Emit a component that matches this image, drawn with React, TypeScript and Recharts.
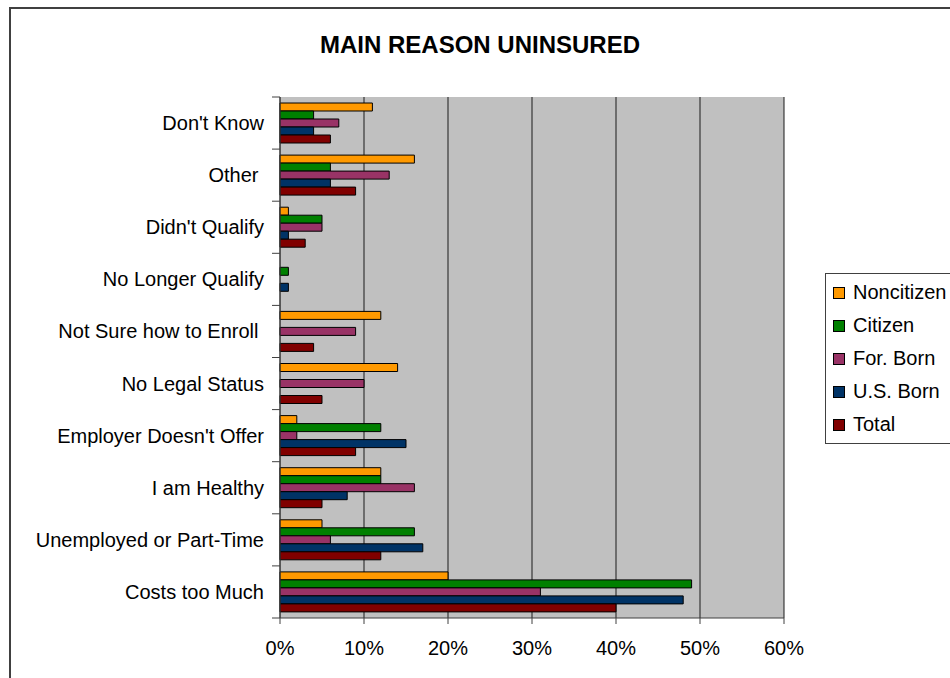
import { Bar, BarChart, CartesianGrid, Legend, XAxis, YAxis } from "recharts"

// main reason uninsured, share of each group (%)
const reasons = [
  "Don't Know",
  "Other\u00a0",
  "Didn't Qualify",
  "No Longer Qualify",
  "Not Sure how to Enroll\u00a0",
  "No Legal Status",
  "Employer Doesn't Offer",
  "I am Healthy",
  "Unemployed or Part-Time",
  "Costs too Much",
]
const noncitizen = [11, 16, 1, 0, 12, 14, 2, 12, 5, 20]
const citizen = [4, 6, 5, 1, 0, 0, 12, 12, 16, 49]
const forBorn = [7, 13, 5, 0, 9, 10, 2, 16, 6, 31]
const usBorn = [4, 6, 1, 1, 0, 0, 15, 8, 17, 48]
const total = [6, 9, 3, 0, 4, 5, 9, 5, 12, 40]
const xTicks = [0, 10, 20, 30, 40, 50, 60]

const series = [
  { key: "noncitizen", name: "Noncitizen", color: "#FF9900" },
  { key: "citizen", name: "Citizen", color: "#008000" },
  { key: "forBorn", name: "For. Born", color: "#993366" },
  { key: "usBorn", name: "U.S. Born", color: "#003366" },
  { key: "total", name: "Total", color: "#800000" },
]

const data = reasons.map((reason, i) => ({
  reason,
  noncitizen: noncitizen[i],
  citizen: citizen[i],
  forBorn: forBorn[i],
  usBorn: usBorn[i],
  total: total[i],
}))

const FONT = "'Liberation Sans', Arial, sans-serif"
const AXIS_W = 280

function ReasonTick(props: any) {
  const { y, payload, index, visibleTicksCount } = props
  const half = payload?.offset || 26
  return (
    <g>
      <line x1={AXIS_W - 8} x2={AXIS_W} y1={y - half} y2={y - half} stroke="#404040" />
      {index === visibleTicksCount - 1 && (
        <line x1={AXIS_W - 8} x2={AXIS_W} y1={y + half} y2={y + half} stroke="#404040" />
      )}
      <text x={AXIS_W - 16} y={y} dy="0.35em" textAnchor="end" fontSize={20} fill="#000" fontFamily={FONT}>
        {payload.value}
      </text>
    </g>
  )
}

function LegendBox() {
  return (
    <div
      style={{
        border: "1px solid #404040",
        background: "#fff",
        padding: "2px 0 2px 7px",
        width: 140,
        fontFamily: FONT,
        fontSize: 20,
        boxSizing: "border-box",
      }}
    >
      {series.map((s) => (
        <div key={s.key} style={{ height: 33, display: "flex", alignItems: "center" }}>
          <span
            style={{
              width: 10,
              height: 10,
              background: s.color,
              border: "1px solid #000",
              marginRight: 8,
              display: "inline-block",
            }}
          />
          <span>{s.name}</span>
        </div>
      ))}
    </div>
  )
}

export default function App() {
  return (
    <div style={{ position: "fixed", left: 0, top: 0, width: 950, height: 678, overflow: "hidden", background: "#fff" }}>
      <div
        style={{
          position: "absolute",
          left: 9,
          top: 7,
          width: 1000,
          height: 720,
          border: "2px solid #404040",
        }}
      />
      <div
        style={{
          position: "absolute",
          left: 280,
          top: 33,
          width: 400,
          textAlign: "center",
          fontFamily: FONT,
          fontWeight: "bold",
          fontSize: 24,
          lineHeight: "24px",
        }}
      >
        MAIN REASON UNINSURED
      </div>
      <div style={{ position: "absolute", left: 0, top: 0 }}>
        <BarChart
          width={950}
          height={678}
          data={data}
          layout="vertical"
          margin={{ top: 97, right: 166, bottom: 0, left: 0 }}
          barSize={8}
          barGap={0}
        >
          <CartesianGrid fill="#C0C0C0" stroke="#1a1a1a" horizontal={false} vertical={true} />
          <XAxis
            type="number"
            domain={[0, 60]}
            ticks={xTicks}
            tickFormatter={(v) => `${v}%`}
            height={60}
            tickSize={6}
            tickMargin={17}
            stroke="#404040"
            tick={{ fill: "#000", fontSize: 20, fontFamily: FONT }}
          />
          <XAxis xAxisId="top" orientation="top" type="number" domain={[0, 60]} height={0} tick={false} tickLine={false} stroke="#808080" />
          <YAxis
            type="category"
            dataKey="reason"
            width={AXIS_W}
            tickLine={false}
            stroke="#404040"
            tick={<ReasonTick />}
            interval={0}
          />
          <YAxis yAxisId="right" orientation="right" type="category" dataKey="reason" width={0} tick={false} tickLine={false} stroke="#808080" />
          {series.map((s) => (
            <Bar key={s.key} dataKey={s.key} name={s.name} fill={s.color} stroke="#000" strokeWidth={1} isAnimationActive={false} />
          ))}
          <Legend
            layout="horizontal"
            align="center"
            verticalAlign="middle"
            content={<LegendBox />}
            wrapperStyle={{ position: "absolute", left: 825, top: 273, width: 140 }}
          />
        </BarChart>
      </div>
    </div>
  )
}
